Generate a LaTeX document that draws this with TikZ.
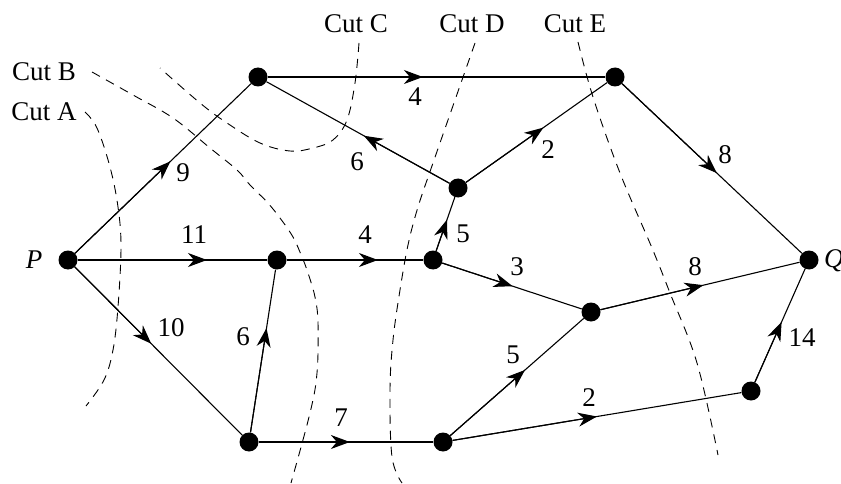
\documentclass[tikz,border=0pt]{standalone}
\usepackage{fontspec}
\setmainfont{Liberation Serif}
\usetikzlibrary{arrows.meta,calc}
\newcommand\flowedge[3]{%
  \draw[edge] (#1) -- (#2);
  \draw[edge,-{Stealth[length=19pt,width=14pt,inset=6pt]}] (#1) -- ($(#1)!#3!(#2)$);}
\begin{document}
\begin{tikzpicture}[x=1pt,y=-1pt,
  vertex/.style={circle,fill=black,inner sep=0pt,minimum size=19pt},
  edge/.style={line width=1.1pt},
  cut/.style={line width=0.9pt,dash pattern=on 9pt off 7pt},
  lbl/.style={font=\fontsize{27}{30}\selectfont,inner sep=0pt},
  ilbl/.style={font=\fontsize{27}{30}\selectfont\itshape,inner sep=0pt}]
\useasboundingbox (0,0) rectangle (841,484);
\clip (0,0) rectangle (841,484);
% vertices
\node[vertex] (P) at (68,260) {};
\node[vertex] (A) at (258,77) {};
\node[vertex] (E) at (615,77) {};
\node[vertex] (D) at (458,188) {};
\node[vertex] (B) at (277,260) {};
\node[vertex] (C) at (433,260) {};
\node[vertex] (Q) at (809,260) {};
\node[vertex] (F) at (591,312) {};
\node[vertex] (G) at (249,442) {};
\node[vertex] (H) at (443,442) {};
\node[vertex] (I) at (751,391) {};
% edges
\flowedge{P}{A}{0.539}
\flowedge{A}{E}{0.462}
\flowedge{D}{A}{0.471}
\flowedge{D}{E}{0.544}
\flowedge{E}{Q}{0.525}
\flowedge{C}{D}{0.56}
\flowedge{P}{B}{0.665}
\flowedge{B}{C}{0.647}
\flowedge{P}{G}{0.46}
\flowedge{G}{B}{0.626}
\flowedge{G}{H}{0.52}
\flowedge{C}{F}{0.504}
\flowedge{F}{Q}{0.516}
\flowedge{H}{F}{0.554}
\flowedge{H}{I}{0.50}
\flowedge{I}{Q}{0.528}
% edge labels
\node[lbl] (l9) at (183,173) {9};
\node[lbl] (l6a) at (357,162) {6};
\node[lbl] (l11) at (194,235) {11};
\node[lbl] (l4b) at (365,235) {4};
\node[lbl] (l4a) at (415,97) {4};
\node[lbl] (l2a) at (548,150) {2};
\node[lbl] (l8a) at (725,155) {8};
\node[lbl] (l5a) at (463,234) {5};
\node[lbl] (l10) at (171,328) {10};
\node[lbl] (l6b) at (243,337) {6};
\node[lbl] (l7) at (341,418) {7};
\node[lbl] (l3) at (517,267) {3};
\node[lbl] (l8b) at (695,267) {8};
\node[lbl] (l5b) at (513,355) {5};
\node[lbl] (l2b) at (589,398) {2};
\node[lbl] (l14) at (802,338) {14};
% terminal labels
\node[ilbl] (lP) at (34,260) {P};
\node[ilbl,anchor=west] (lQ) at (824,261) {Q};
% cuts
\draw[cut] plot[smooth,tension=0.6] coordinates {(85,112) (97,128) (110,167) (118,207) (121,247) (118,307) (113,350) (104,380) (86,406)};
\draw[cut] plot[smooth,tension=0.6] coordinates {(92,72) (133,95) (173,118) (210,148) (237,170) (250,185) (267,202) (280,218) (293,237) (302,257) (308,273) (315,297) (318,323) (317,373) (310,413) (291,483)};
\draw[cut] plot[smooth,tension=0.6] coordinates {(359,43) (355,83) (347,120) (333,140) (313,148) (290,151) (260,143) (227,123) (200,103) (160,68)};
\draw[cut] plot[smooth,tension=0.6] coordinates {(475,43) (455,100) (433,163) (418,207) (408,245) (400,290) (393,340) (390,390) (392,457) (402,483)};
\draw[cut] plot[smooth,tension=0.6] coordinates {(578,42) (593,97) (620,173) (652,248) (670,293) (697,363) (718,455)};
\node[lbl] (cA) at (44,112) {Cut A};
\node[lbl] (cB) at (44,72) {Cut B};
\node[lbl] (cC) at (356,24) {Cut C};
\node[lbl] (cD) at (472,24) {Cut D};
\node[lbl] (cE) at (575,24) {Cut E};
\end{tikzpicture}
\end{document}
